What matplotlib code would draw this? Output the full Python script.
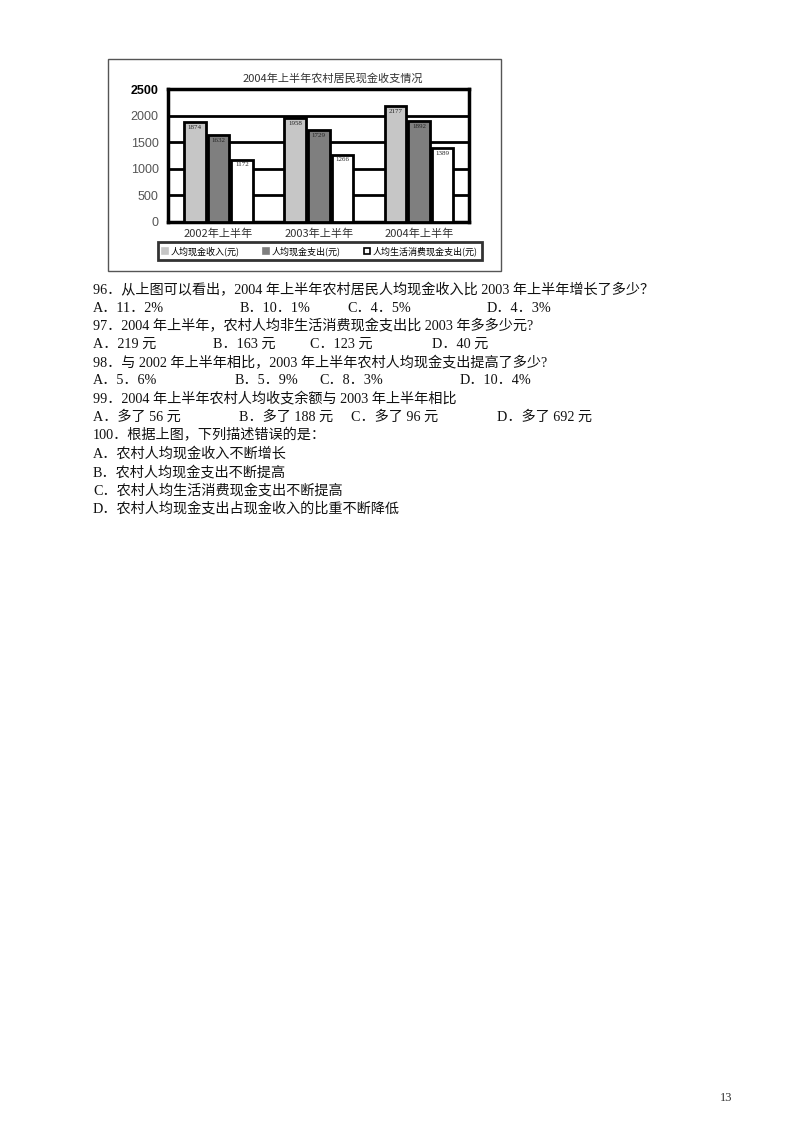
import matplotlib
matplotlib.use("Agg")
import matplotlib.pyplot as plt
from matplotlib.patches import Rectangle, Patch
import numpy as np

# chart data
categories = ["2002年上半年", "2003年上半年", "2004年上半年"]
income = [1874, 1958, 2177]      # 人均现金收入
expense = [1632, 1729, 1892]     # 人均现金支出
living = [1172, 1266, 1389]      # 人均生活消费现金支出
series_names = ["人均现金收入(元)", "人均现金支出(元)", "人均生活消费现金支出(元)"]
series_colors = ["#c6c6c6", "#7f7f7f", "#ffffff"]
yticks = [0, 500, 1000, 1500, 2000, 2500]

# question text under the chart
stems = [
    "96．从上图可以看出，2004 年上半年农村居民人均现金收入比 2003 年上半年增长了多少？",
    "97．2004 年上半年，农村人均非生活消费现金支出比 2003 年多多少元?",
    "98．与 2002 年上半年相比，2003 年上半年农村人均现金支出提高了多少?",
    "99．2004 年上半年农村人均收支余额与 2003 年上半年相比",
]
choices = [
    ["A．11．2%", "B．10．1%", "C．4．5%", "D．4．3%"],
    ["A．219 元", "B．163 元", "C．123 元", "D．40 元"],
    ["A．5．6%", "B．5．9%", "C．8．3%", "D．10．4%"],
    ["A．多了 56 元", "B．多了 188 元", "C．多了 96 元", "D．多了 692 元"],
]
choice_x = [
    [93, 240, 347, 487],
    [93, 213, 310, 432],
    [93, 235, 319, 460],
    [93, 239, 351, 497],
]
q100 = "100．根据上图，下列描述错误的是："
q100_choices = [
    "A．农村人均现金收入不断增长",
    "B．农村人均现金支出不断提高",
    "C．农村人均生活消费现金支出不断提高",
    "D．农村人均现金支出占现金收入的比重不断降低",
]

W, H = 800, 1132
cjk = ["Liberation Serif", "Noto Sans CJK SC", "DejaVu Sans"]
cjk_sans = ["Noto Sans CJK SC", "DejaVu Sans"]
plt.rcParams["font.family"] = cjk_sans

fig = plt.figure(figsize=(W / 100, H / 100), dpi=100)

def fx(px):
    return px / W

def fy(py):
    return 1 - py / H

# outer frame of the pasted chart
fig.patches.append(Rectangle((fx(108), fy(271)), fx(501) - fx(108), fy(59) - fy(271),
                             transform=fig.transFigure, fill=False, lw=1.0,
                             edgecolor="#555555"))

ax = fig.add_axes([fx(168.3), fy(221.7), fx(469.3) - fx(168.3), fy(89.3) - fy(221.7)])
x = np.arange(len(categories)) + 0.5
width = 0.215
offsets = [-0.235, 0, 0.235]
for vals, off, col, name in zip([income, expense, living], offsets, series_colors, series_names):
    bars = ax.bar(x + off, vals, width, color=col, edgecolor="black", linewidth=2.0,
                  label=name, zorder=3)
    for b, v in zip(bars, vals):
        ax.text(b.get_x() + b.get_width() / 2, v - 50, str(v), ha="center", va="top",
                fontsize=5, color="#222222", zorder=4, family=cjk)

ax.set_xlim(0, 3)
ax.set_ylim(0, 2500)
ax.set_yticks(yticks)
ax.set_xticks(x)
ax.set_xticklabels(categories, fontsize=8, color="#333333")
ax.tick_params(length=0)
ax.tick_params(axis="y", pad=7)
ax.tick_params(axis="x", pad=5)
for lab in ax.get_yticklabels():
    lab.set_family("Liberation Sans")
    lab.set_fontsize(9)
    lab.set_color("#555555")
ax.get_yticklabels()[-1].set_color("black")
ax.get_yticklabels()[-1].set_fontweight("bold")
ax.yaxis.grid(True, color="black", lw=2.0, zorder=1)
ax.set_axisbelow(True)
for s in ax.spines.values():
    s.set_linewidth(2.5)

fig.text(fx(333), fy(78), "2004年上半年农村居民现金收支情况", ha="center", va="center",
         fontsize=8, color="#333333")

handles = [Patch(facecolor=c, edgecolor="black" if c == "#ffffff" else c, lw=1.2)
           for c in series_colors]
leg = fig.legend(handles, series_names, loc="center", ncol=3,
                 bbox_to_anchor=(fx(153), fy(263), fx(487) - fx(153), fy(239) - fy(263)),
                 mode="expand", fontsize=6.5, handlelength=0.7, handleheight=0.7,
                 handletextpad=0.3, borderpad=0.5, columnspacing=1.5, fancybox=False)
leg.get_frame().set_edgecolor("black")
leg.get_frame().set_linewidth(2.0)

# question text
row_y = [290 + 18.2 * i for i in range(13)]
r = 0
for stem, opts, xs in zip(stems, choices, choice_x):
    fig.text(fx(93), fy(row_y[r]), stem, ha="left", va="center", fontsize=10.2,
             family=cjk, color="#111111")
    r += 1
    for o, ox in zip(opts, xs):
        fig.text(fx(ox), fy(row_y[r]), o, ha="left", va="center", fontsize=10.2,
                 family=cjk, color="#111111")
    r += 1
fig.text(fx(93), fy(row_y[r]), q100, ha="left", va="center", fontsize=10.2,
         family=cjk, color="#111111")
r += 1
for o in q100_choices:
    fig.text(fx(93), fy(row_y[r]), o, ha="left", va="center", fontsize=10.2,
             family=cjk, color="#111111")
    r += 1

fig.text(fx(726), fy(1098), "13", ha="center", va="center", fontsize=9,
         family="Liberation Serif", color="#333333")

fig.savefig("out.png", dpi=100, facecolor="white")
